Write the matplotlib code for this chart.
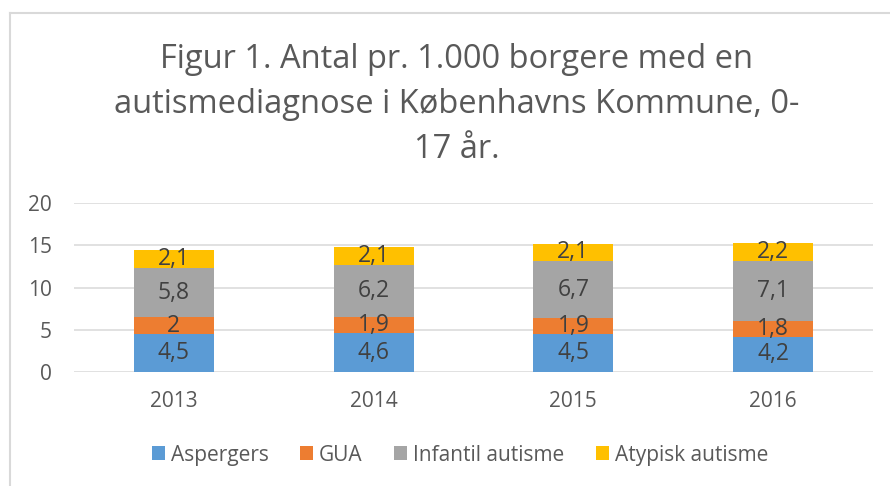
import matplotlib
matplotlib.use("Agg")
import matplotlib.pyplot as plt
from matplotlib.patches import Patch
from matplotlib.lines import Line2D

plt.rcParams['font.family'] = ['Open Sans', 'DejaVu Sans']

years = ["2013", "2014", "2015", "2016"]
series_names = ["Aspergers", "GUA", "Infantil autisme", "Atypisk autisme"]
aspergers = [4.5, 4.6, 4.5, 4.2]
gua = [2.0, 1.9, 1.9, 1.8]
infantil = [5.8, 6.2, 6.7, 7.1]
atypisk = [2.1, 2.1, 2.1, 2.2]
yticks = [0, 5, 10, 15, 20]
colors = ["#5B9BD5", "#ED7D31", "#A5A5A5", "#FFC000"]
title_lines = ["Figur 1. Antal pr. 1.000 borgere med en",
               "autismediagnose i Københavns Kommune, 0-",
               "17 år."]

W, H = 890, 486
fig = plt.figure(figsize=(W / 100, H / 100), dpi=100)
ax = fig.add_axes([74 / W, 1 - 372 / H, 799 / W, (372 - 203) / H])

x = list(range(len(years)))
bottom = [0.0] * len(years)
for name, vals, c in zip(series_names, [aspergers, gua, infantil, atypisk], colors):
    bars = ax.bar(x, vals, width=0.4, bottom=bottom, color=c, label=name, zorder=3)
    for xi, b, v in zip(x, bottom, vals):
        ax.text(xi, b + v / 2, f"{v:g}".replace('.', ','), ha='center', va='center',
                fontsize=16.5, color='#404040', zorder=4)
    bottom = [b + v for b, v in zip(bottom, vals)]

ax.set_xlim(-0.5, len(years) - 0.5)
ax.set_ylim(0, 20)
ax.set_yticks(yticks)
ax.set_yticklabels([str(t) for t in yticks])
ax.set_xticks(x)
ax.set_xticklabels(years)
ax.yaxis.grid(True, color='#D9D9D9', linewidth=1.1, zorder=0)
ax.set_axisbelow(True)
for s in ax.spines.values():
    s.set_visible(False)
ax.tick_params(axis='both', length=0, labelsize=15, labelcolor='#595959')
ax.tick_params(axis='y', pad=16)
ax.tick_params(axis='x', pad=14)

baselines = [68, 113, 158]
for line, yb in zip(title_lines, baselines):
    fig.text(457 / W, 1 - yb / H, line, ha='center', va='baseline',
             fontsize=23.5, color='#595959')

handles = [Patch(facecolor=c, edgecolor='none') for c in colors]
leg = fig.legend(handles, series_names, loc='center', bbox_to_anchor=(460 / W, 1 - 455 / H),
                 ncol=4, frameon=False, fontsize=15, labelcolor='#595959',
                 handlelength=0.63, handleheight=0.63, handletextpad=0.29, columnspacing=1.5)

fig.add_artist(Line2D([10 / W, 1.0], [1 - 13 / H, 1 - 13 / H], color='#D9D9D9', linewidth=1.5))
fig.add_artist(Line2D([10 / W, 10 / W], [1 - 13 / H, 0], color='#D9D9D9', linewidth=1.5))

fig.savefig("out.png", dpi=100)
